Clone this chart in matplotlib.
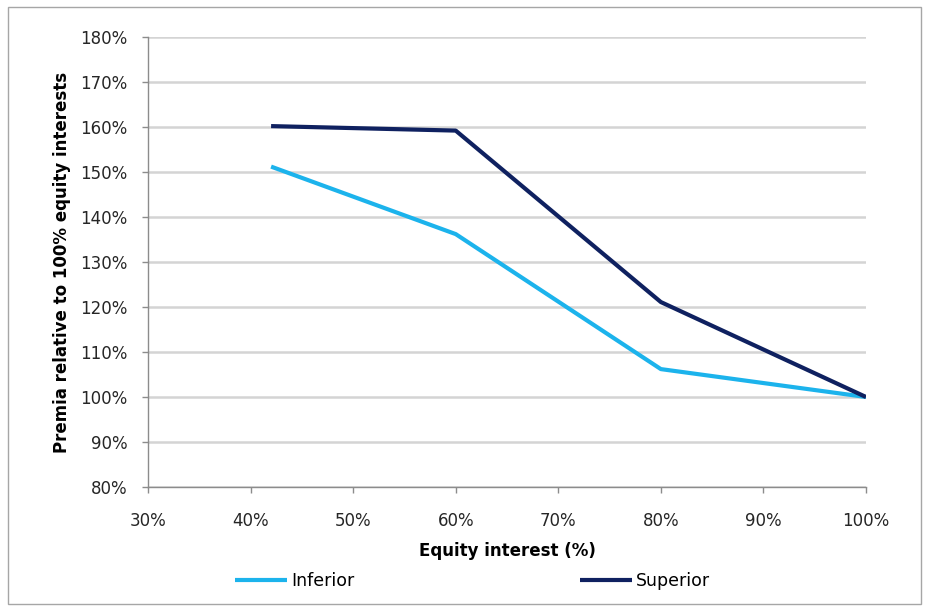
import matplotlib
matplotlib.use("Agg")
import matplotlib.pyplot as plt
from matplotlib.patches import Rectangle
from matplotlib.ticker import FuncFormatter

equity_interest = [42, 60, 80, 100]
inferior = [151.2, 136.2, 106.2, 100.0]
superior = [160.2, 159.2, 121.1, 100.0]
x_ticks = [30, 40, 50, 60, 70, 80, 90, 100]
y_ticks = [80, 90, 100, 110, 120, 130, 140, 150, 160, 170, 180]

plt.rcParams['font.family'] = ['DejaVu Sans']

fig = plt.figure(figsize=(9.29, 6.08), dpi=100)
fig.patches.append(Rectangle((8/929, 1-604/608), (921-8)/929, (604-7)/608,
                             transform=fig.transFigure, fill=False,
                             edgecolor='#A6A6A6', linewidth=1.0))
ax = fig.add_axes([148/929, 1-487/608, (866-148)/929, (487-37)/608])

ax.plot(equity_interest, inferior, color='#1CB3EC', linewidth=3.0, label='Inferior', solid_capstyle='butt')
ax.plot(equity_interest, superior, color='#0F2160', linewidth=3.0, label='Superior', solid_capstyle='butt')

ax.set_xlim(30, 100)
ax.set_ylim(80, 180)
ax.set_xticks(x_ticks)
ax.set_yticks(y_ticks)
ax.xaxis.set_major_formatter(FuncFormatter(lambda v, p: f"{v:.0f}%"))
ax.yaxis.set_major_formatter(FuncFormatter(lambda v, p: f"{v:.0f}%"))
ax.grid(axis='y', color='#D4D4D4', linewidth=1.8)
ax.set_axisbelow(True)
for s in ['top', 'right']:
    ax.spines[s].set_visible(False)
for s in ['left', 'bottom']:
    ax.spines[s].set_color('#8C8C8C')
    ax.spines[s].set_linewidth(1.0)
ax.tick_params(axis='both', colors='#8C8C8C', labelcolor='#262626', labelsize=12, length=4, width=1, direction='out')
ax.tick_params(axis='y', pad=11)
ax.tick_params(axis='x', pad=14)

ax.set_xlabel('Equity interest (%)', fontsize=12, fontweight='bold', labelpad=9)
ax.set_ylabel('Premia relative to 100% equity interests', fontsize=12, fontweight='bold', labelpad=6)

leg = fig.legend(loc='center', bbox_to_anchor=(0.5 + 8/929, 1-581/608), ncol=2, frameon=False,
                 fontsize=12.5, handlelength=3.0, handletextpad=0.2, columnspacing=13.0)

fig.savefig('out.png', dpi=100)
